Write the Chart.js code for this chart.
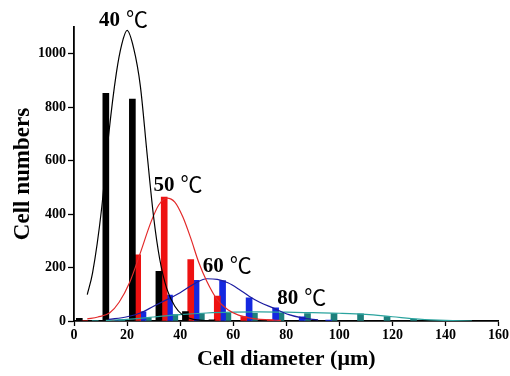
<!DOCTYPE html>
<html>
<head>
<meta charset="utf-8">
<script src="https://cdn.jsdelivr.net/npm/chart.js@4"></script>
<style>
  html, body { margin: 0; padding: 0; background: #fff; }
  #wrap { width: 510px; height: 376px; }
</style>
</head>
<body>
<div id="wrap"><canvas id="myChart" width="510" height="376"></canvas></div>
<script>
// bar positions (um) and counts for each temperature
var bars40X = [2, 12, 22, 32, 42, 52];
var bars40Y = [10, 852, 830, 186, 35, 4];
var bars50X = [4, 14, 24, 34, 44, 54, 64, 74];
var bars50Y = [2, 3, 248, 464, 230, 93, 17, 4];
var bars60X = [16, 26, 36, 46, 56, 66, 76, 86, 96];
var bars60Y = [2, 34, 97, 152, 151, 87, 49, 16, 3];
var bars80X = [8, 18, 28, 38, 48, 58, 68, 78, 88, 98, 108, 118, 128];
var bars80Y = [1, 4, 13, 24, 28, 30, 29, 29, 28, 28, 27, 17, 6];

// fitted curves
var fit40X = [5, 7, 10.4, 13, 16, 18, 20, 22.5, 25, 27.6, 30, 32.3, 35, 38, 41, 45, 50];
var fit40Y = [99, 180, 420, 690, 930, 1035, 1087, 1020, 880, 620, 390, 232, 120, 55, 22, 6, 1];
var fit50X = [5, 9, 13.5, 17, 21, 25, 29, 32, 35, 38, 41, 44, 47, 50, 54, 58, 62, 66, 72, 78];
var fit50Y = [8, 15, 31, 70, 145, 255, 370, 435, 460, 445, 390, 310, 220, 150, 80, 42, 22, 12, 5, 2];
var fit60X = [13, 20, 25, 30, 35, 40, 46, 50, 54, 58, 62, 66, 70, 75, 81, 86, 92];
var fit60Y = [6, 16, 30, 55, 80, 106, 143, 158, 156, 143, 120, 93, 70, 49, 24, 12, 4];
var fit80X = [12, 20, 30, 40, 50, 60, 70, 80, 90, 100, 110, 120, 130, 140, 150];
var fit80Y = [2, 6, 15, 24, 30, 33, 34, 33, 31, 29, 25, 16, 7, 2, 0];

var xTicks = [0, 20, 40, 60, 80, 100, 120, 140, 160];
var yTicks = [0, 200, 400, 600, 800, 1000];

// temperature labels: text, anchor in data units
var tempText = ['40', '50', '60', '80'];
var tempX = [9.4, 30, 48.5, 76.6];
var tempY = [1105, 488, 185, 65];

function pts(xs, ys) {
  var out = [];
  for (var i = 0; i < xs.length; i++) {
    out.push({x: xs[i], y: ys[i]});
  }
  return out;
}

function barSet(xs, ys, color) {
  return {
    type: 'bar',
    data: pts(xs, ys),
    backgroundColor: color,
    borderWidth: 0,
    barThickness: 6,
    grouped: false,
    order: 1
  };
}

function lineSet(xs, ys, color) {
  return {
    type: 'line',
    data: pts(xs, ys),
    borderColor: color,
    borderWidth: 1.2,
    pointRadius: 0,
    tension: 0.4,
    cubicInterpolationMode: 'monotone',
    fill: false,
    order: 0
  };
}

var serif = '"Liberation Serif", "Times New Roman", serif';

var tempLabels = {
  id: 'tempLabels',
  afterDatasetsDraw: function(chart) {
    var ctx = chart.ctx;
    var xs = chart.scales.x, ys = chart.scales.y;
    ctx.save();
    ctx.fillStyle = '#000';
    ctx.textBaseline = 'alphabetic';
    ctx.textAlign = 'left';
    for (var i = 0; i < tempText.length; i++) {
      var px = xs.getPixelForValue(tempX[i]);
      var py = ys.getPixelForValue(tempY[i]);
      ctx.font = 'bold 21px ' + serif;
      ctx.fillText(tempText[i], px, py);
      var w = ctx.measureText(tempText[i]).width;
      ctx.font = 'normal 22px "Noto Sans CJK SC", "DejaVu Sans", sans-serif';
      ctx.fillText('\u2103', px + w + 6, py + 1);
    }
    ctx.restore();
  }
};

var ctx = document.getElementById('myChart').getContext('2d');
var myChart = new Chart(ctx, {
  type: 'bar',
  data: {
    datasets: [
      barSet(bars40X, bars40Y, '#000000'),
      barSet(bars50X, bars50Y, '#ee1111'),
      barSet(bars60X, bars60Y, '#1428e0'),
      barSet(bars80X, bars80Y, '#1d7f7c'),
      lineSet(fit40X, fit40Y, '#000000'),
      lineSet(fit50X, fit50Y, '#e32a2a'),
      lineSet(fit60X, fit60Y, '#1c1ca0'),
      lineSet(fit80X, fit80Y, '#2aa39e')
    ]
  },
  options: {
    responsive: false,
    animation: false,
    layout: { padding: { top: 27, right: 10, left: 0, bottom: 0 } },
    plugins: {
      legend: { display: false },
      tooltip: { enabled: false }
    },
    scales: {
      x: {
        type: 'linear',
        min: 0,
        max: 160,
        offset: false,
        afterBuildTicks: function(scale) {
          scale.ticks = xTicks.map(function(v) { return {value: v}; });
        },
        afterFit: function(scale) { scale.height = 55; },
        grid: { display: true, drawOnChartArea: false, offset: false, color: '#000', tickLength: 5, tickWidth: 1.3 },
        border: { display: true, color: '#000', width: 1.8 },
        ticks: {
          color: '#000',
          padding: 1,
          maxRotation: 0,
          callback: function(v) { return String(v); },
          font: { family: serif, size: 14, weight: 'bold' }
        },
        title: {
          display: true,
          text: 'Cell diameter (\u03bcm)',
          color: '#000',
          padding: { top: 0, bottom: 3 },
          font: { family: serif, size: 22, weight: 'bold' }
        }
      },
      y: {
        type: 'linear',
        min: 0,
        max: 1100,
        afterBuildTicks: function(scale) {
          scale.ticks = yTicks.map(function(v) { return {value: v}; });
        },
        afterFit: function(scale) { scale.width = 74; },
        grid: { display: true, drawOnChartArea: false, color: '#000', tickLength: 6, tickWidth: 1.3 },
        border: { display: true, color: '#000', width: 1.8 },
        ticks: {
          color: '#000',
          padding: 2,
          callback: function(v) { return String(v); },
          font: { family: serif, size: 14, weight: 'bold' }
        },
        title: {
          display: true,
          text: 'Cell numbers',
          color: '#000',
          padding: { top: 9, bottom: 0 },
          font: { family: serif, size: 23, weight: 'bold' }
        }
      }
    }
  },
  plugins: [tempLabels]
});
</script>
</body>
</html>
